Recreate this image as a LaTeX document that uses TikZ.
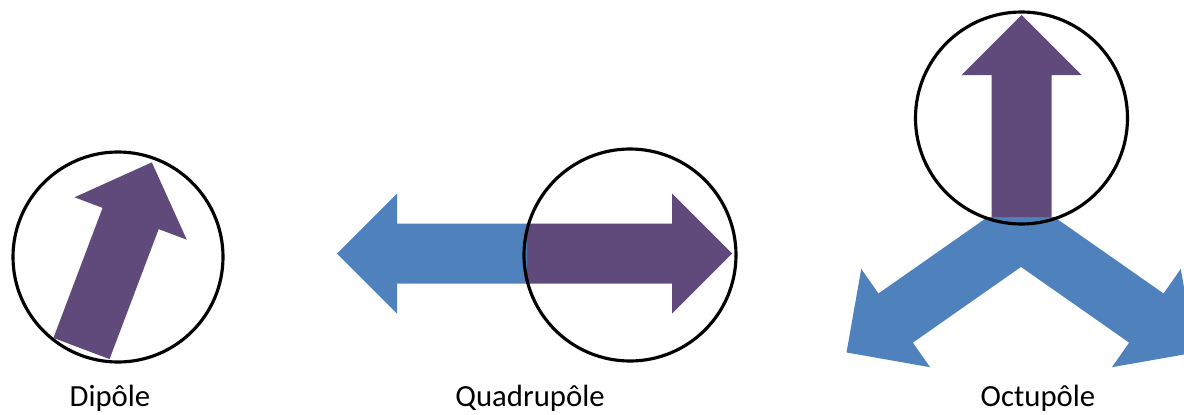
\documentclass[tikz,border=0pt]{standalone}
\usepackage{fontspec}
\setmainfont{Carlito}
\usepackage{tikz}
\usetikzlibrary{positioning}
\definecolor{poleblue}{HTML}{4F81BD}
\definecolor{polepurple}{HTML}{604A7B}
\tikzset{
    x=0.02cm, y=0.02cm, % one unit is one pixel of the page
    ring/.style={draw=black, line width=1.8pt}, % the circle round each purple arrow
    caption/.style={font=\fontsize{17.5}{20}\selectfont, inner sep=0pt}, % the name under each picture
}
% a broad arrow: colour, origin, angle, length
\newcommand{\polearrow}[4]{%
  \fill[#1, shift={#2}, rotate=#3]
    (0,-30) -- ({#4-60},-30) -- ({#4-60},-60) -- (#4,0)
    -- ({#4-60},60) -- ({#4-60},30) -- (0,30) -- cycle;}

\begin{document}
\begin{tikzpicture}
\clip (0,0) rectangle (1184,414);

% centres of the circles
\coordinate (dip)  at (118,157);
\coordinate (quad) at (630,159);
\coordinate (oct)  at (1021.5,296);

% Dipole
\polearrow{polepurple}{(81.5,65.5)}{69.3}{199}

% Quadrupole
\polearrow{poleblue}{(527,160.5)}{180}{190}
\polearrow{polepurple}{(527,160.5)}{0}{205}

% Octupole
\begin{scope}
\clip (800,0) rectangle (1184,197);
\polearrow{poleblue}{(1021,183.7)}{215}{213}
\polearrow{poleblue}{(1021,183.7)}{-35}{213}
\fill[poleblue] (987.9,197) -- (1054.1,197) -- (1021,147) -- cycle;
\end{scope}
\polearrow{polepurple}{(1021.5,197)}{90}{202}

\draw[ring] (dip)  circle[radius=105];
\draw[ring] (quad) circle[radius=106];
\draw[ring] (oct)  circle[radius=106];

\node[caption] (dipole)     at (110,16)  {Dipôle};
\node[caption] (quadrupole) at (530,16)  {Quadrupôle};
\node[caption] (octupole)   at (1038,16) {Octupôle};
\end{tikzpicture}
\end{document}
